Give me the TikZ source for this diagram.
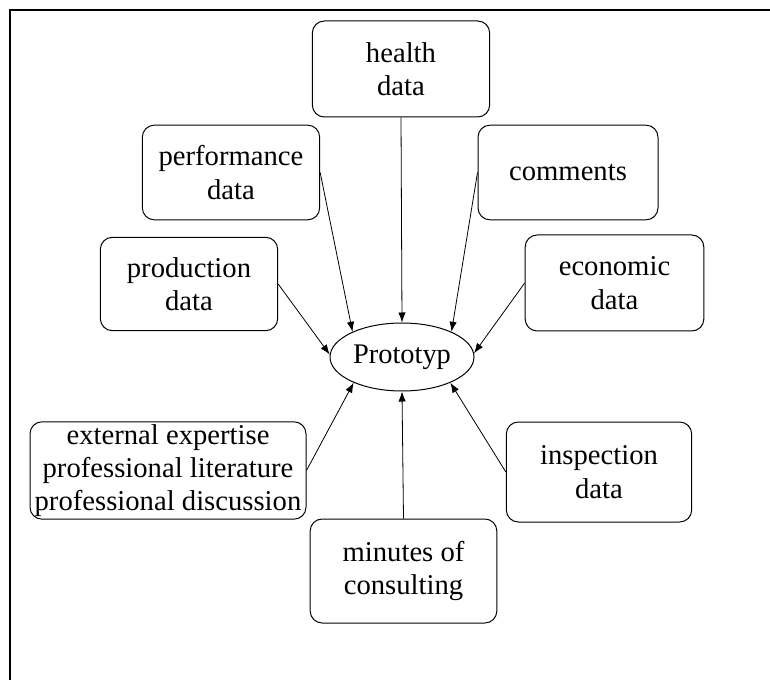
\documentclass[tikz,border=0pt]{standalone}
\usepackage{fontspec}
\setmainfont{Liberation Serif}
\usepackage{pgf, tikz}
\usetikzlibrary{shapes.geometric,arrows.meta}

\begin{document}
\begin{tikzpicture}[x=0.75pt,y=-0.75pt,
  src/.style={draw,rounded corners=9pt,align=center,inner sep=0pt,line width=0.75pt},
  link/.style={-{Latex[length=7.5pt,width=5.5pt]},line width=0.6pt}]
\useasboundingbox (0,0) rectangle (770,680);
\draw[line width=1.6pt] (10,690) -- (10,10) -- (780,10);

\node[draw,ellipse,minimum width=108pt,minimum height=51pt,inner sep=0pt,line width=0.75pt,font=\fontsize{21.3}{25}\selectfont](1) at(402,357){Prototyp};

\begin{scope}[font=\fontsize{21.5}{25}\selectfont]
\node[src,minimum width=133pt,minimum height=72pt](2) at(401,69){health\\data};
\node[src,minimum width=133pt,minimum height=71pt](3) at(231,172.5){performance\\data};
\node[src,minimum width=135pt,minimum height=71pt](4) at(568,172.5){comments};
\node[src,minimum width=133pt,minimum height=70pt](5) at(189,284){production\\data};
\node[src,minimum width=134pt,minimum height=72pt](6) at(614.5,283){economic\\data};
\node[src,minimum width=207pt,minimum height=73pt](7) at(168,470.5){external expertise\\professional literature\\professional discussion};
\node[src,minimum width=140pt,minimum height=78pt](8) at(403.5,571){minutes of\\consulting};
\node[src,minimum width=139pt,minimum height=75pt](9) at(599,472){inspection\\data};
\end{scope}

\draw [link](2.south)--(1.north);
\draw [link](3.east)--(1.153);
\draw [link](4.west)--(1.27);
\draw [link](5.east)--(1.178);
\draw [link](6.west)--(1.3);
\draw [link](7.east)--(1.208);
\draw [link](8.north)--(1.south);
\draw [link](9.west)--(1.332);
\end{tikzpicture}
\end{document}
